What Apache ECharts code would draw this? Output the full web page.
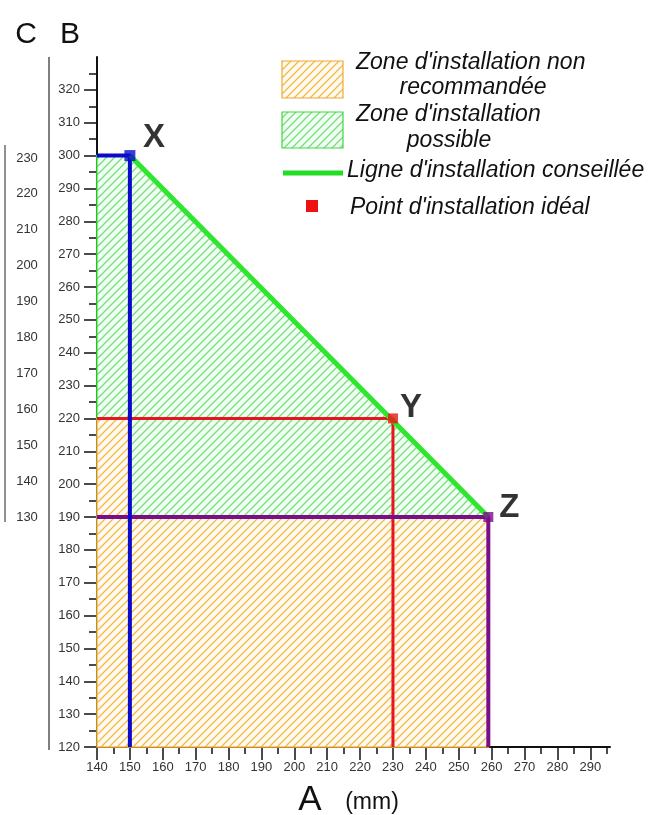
<!DOCTYPE html>
<html><head><meta charset="utf-8">
<script src="https://cdn.jsdelivr.net/npm/echarts@6/dist/echarts.min.js"></script>
<style>html,body{margin:0;padding:0;background:#fff}#c{width:648px;height:815px}</style>
</head><body><div id="c"></div>
<script>
// ---- data ----
const ticksA = [140,150,160,170,180,190,200,210,220,230,240,250,260,270,280,290];
const minorA = [145,155,165,175,185,195,205,215,225,235,245,255,265,275,285,295];
const ticksB = [120,130,140,150,160,170,180,190,200,210,220,230,240,250,260,270,280,290,300,310,320];
const minorB = [125,135,145,155,165,175,185,195,205,215,225,235,245,255,265,275,285,295,305,315,325];
const ticksC = [130,140,150,160,170,180,190,200,210,220,230];
const pointX = [150, 300];
const pointY = [230, 220];
const pointZ = [259, 190];
const zoneNonRecommandee = [[140,120],[259,120],[259,190],[150,190],[150,220],[140,220]];
const zonePossible = [[140,220],[140,300],[150,300],[259,190],[150,190],[150,220]];
const ligneConseillee = [[150,300],[259,190]];
const ligneX = [[140,300],[150,300],[150,120]];
const ligneY = [[140,220],[230,220],[230,120]];
const ligneZ = [[140,190],[259,190],[259,120]];

function hatch(bg, line, size) {
  const c = document.createElement('canvas');
  c.width = size; c.height = size;
  const ctx = c.getContext('2d');
  ctx.fillStyle = bg; ctx.fillRect(0,0,size,size);
  ctx.strokeStyle = line; ctx.lineWidth = 1.25;
  ctx.beginPath();
  ctx.moveTo(0,size); ctx.lineTo(size,0);
  ctx.moveTo(-1,1); ctx.lineTo(1,-1);
  ctx.moveTo(size-1,size+1); ctx.lineTo(size+1,size-1);
  ctx.stroke();
  return c;
}
const patOrange = {image: hatch('#fffaf0', '#f0b848', 8), repeat: 'repeat'};
const patGreen = {image: hatch('#eefff3', '#7fd87a', 8), repeat: 'repeat'};

const chart = echarts.init(document.getElementById('c'), null, {renderer: 'canvas'});
const lblFont = {color: '#333', fontSize: 13, fontFamily: 'Liberation Sans, Arial, sans-serif'};

function polySeries(name, pts, fill, stroke, z) {
  return {
    type: 'custom', name: name, xAxisIndex: 0, yAxisIndex: 0, z: z,
    data: pts,
    renderItem: function (params, api) {
      if (params.dataIndex !== 0) return;
      const p = pts.map(v => api.coord(v));
      return {type: 'polygon', shape: {points: p}, style: {fill: fill, stroke: stroke, lineWidth: 1.5}};
    }
  };
}
function lineSeries(data, color, width, z) {
  return {type: 'line', data: data, xAxisIndex: 0, yAxisIndex: 0, showSymbol: false, symbol: 'none',
    lineStyle: {color: color, width: width}, z: z, silent: true, animation: false};
}
function pointSeries(p, label, color, size, off) {
  return {type: 'scatter', data: [p], xAxisIndex: 0, yAxisIndex: 0, symbol: 'rect', symbolSize: size,
    itemStyle: {color: color}, z: 10,
    label: {show: true, formatter: label, position: 'inside', offset: off,
      color: '#000', fontSize: 33, fontWeight: 'bold', fontFamily: 'Liberation Sans, Arial, sans-serif'}};
}

const legendFont = 'italic 23px "Liberation Sans", Arial, sans-serif';
function txt(x, y, s, font, align) {
  return {type: 'text', x: x, y: y, style: {text: s, font: font, fill: '#111', align: align || 'left', verticalAlign: 'middle'}};
}

chart.setOption({
  animation: false,
  grid: [
    {left: 97, top: 57, width: 513, height: 690},
    {left: 49, top: 158, width: 1, height: 359}
  ],
  xAxis: [
    {type: 'value', gridIndex: 0, min: 140, max: 296, interval: 10,
     axisLine: {show: true, lineStyle: {color: '#111', width: 2}},
     axisTick: {show: true, length: 13, customValues: ticksA, lineStyle: {color: '#111', width: 1.5}},
     axisLabel: Object.assign({margin: 14, customValues: ticksA}, lblFont),
     splitLine: {show: false}},
    {type: 'value', gridIndex: 0, min: 140, max: 296, position: 'bottom',
     axisLine: {show: false},
     axisTick: {show: true, length: 7, customValues: minorA, lineStyle: {color: '#111', width: 1.5}},
     axisLabel: {show: false}, splitLine: {show: false}},
    {type: 'value', gridIndex: 1, show: false, min: 0, max: 1}
  ],
  yAxis: [
    {type: 'value', gridIndex: 0, min: 120, max: 330, interval: 10,
     axisLine: {show: true, lineStyle: {color: '#111', width: 2}},
     axisTick: {show: true, length: 13, customValues: ticksB, lineStyle: {color: '#111', width: 1.5}},
     axisLabel: Object.assign({margin: 17, customValues: ticksB}, lblFont),
     splitLine: {show: false}},
    {type: 'value', gridIndex: 0, min: 120, max: 330, position: 'left',
     axisLine: {show: false},
     axisTick: {show: true, length: 8, customValues: minorB, lineStyle: {color: '#111', width: 1.5}},
     axisLabel: {show: false}, splitLine: {show: false}},
    {type: 'value', gridIndex: 1, min: 130, max: 230, interval: 10, position: 'left',
     axisLine: {show: false}, axisTick: {show: false},
     axisLabel: Object.assign({margin: 22, align: 'center', customValues: ticksC}, lblFont),
     splitLine: {show: false}}
  ],
  graphic: [
    {type: 'line', shape: {x1: 49, y1: 57, x2: 49, y2: 750}, style: {stroke: '#555', lineWidth: 1.5}},
    {type: 'line', shape: {x1: 5, y1: 145, x2: 5, y2: 522}, style: {stroke: '#222', lineWidth: 1}},
    txt(26, 35, 'C', '30px "Liberation Sans", Arial, sans-serif', 'center'),
    txt(70, 35, 'B', '30px "Liberation Sans", Arial, sans-serif', 'center'),
    txt(310, 800, 'A', '35px "Liberation Sans", Arial, sans-serif', 'center'),
    txt(372, 803, '(mm)', '23px "Liberation Sans", Arial, sans-serif', 'center'),
    {type: 'rect', shape: {x: 282, y: 61, width: 61, height: 37}, style: {fill: patOrange, stroke: '#f0a830', lineWidth: 1.2}},
    {type: 'rect', shape: {x: 282, y: 112, width: 61, height: 36}, style: {fill: patGreen, stroke: '#3cd83c', lineWidth: 1.2}},
    {type: 'line', shape: {x1: 283, y1: 173, x2: 343, y2: 173}, style: {stroke: '#22dd22', lineWidth: 5}},
    {type: 'rect', shape: {x: 306, y: 200, width: 12, height: 12}, style: {fill: '#ee1111'}},
    txt(356, 63, "Zone d'installation non", legendFont),
    txt(473, 88, 'recommandée', legendFont, 'center'),
    txt(356, 115, "Zone d'installation", legendFont),
    txt(449, 141, 'possible', legendFont, 'center'),
    txt(347, 171, "Ligne d'installation conseillée", legendFont),
    txt(350, 208, "Point d'installation idéal", legendFont)
  ],
  series: [
    polySeries('Zone non recommandée', zoneNonRecommandee, patOrange, '#f5b945', 1),
    polySeries('Zone possible', zonePossible, patGreen, '#44ee44', 2),
    lineSeries(ligneY, '#e8141e', 3, 4),
    lineSeries(ligneZ, '#7a0d8a', 4, 5),
    lineSeries(ligneX, '#0a0acc', 4, 6),
    lineSeries(ligneConseillee, '#2ee62e', 5, 7),
    pointSeries(pointX, 'X', '#0a0acc', 11, [24, -18]),
    pointSeries(pointY, 'Y', '#ee1111', 10, [18, -11]),
    pointSeries(pointZ, 'Z', '#7a0d8a', 10, [21, -9])
  ]
});
</script></body></html>
